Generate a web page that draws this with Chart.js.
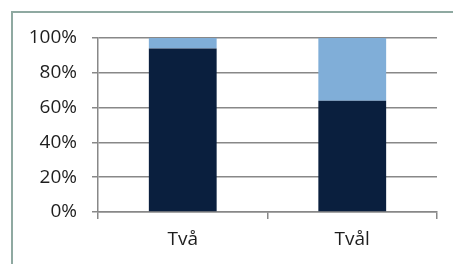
<!DOCTYPE html>
<html>
<head>
<meta charset="utf-8">
<script src="https://cdn.jsdelivr.net/npm/chart.js@4/dist/chart.umd.min.js"></script>
<style>
  html, body { margin: 0; padding: 0; background: #fff; }
  #wrap { position: relative; width: 453px; height: 264px; overflow: hidden; }
  #frame { position: absolute; left: 11px; top: 11px; width: 600px; height: 400px;
           border-left: 2px solid #8fa9a1; border-top: 2px solid #8fa9a1; }
  canvas { position: absolute; left: 0; top: 0; }
</style>
</head>
<body>
<div id="wrap">
  <div id="frame"></div>
  <canvas id="c" width="453" height="264"></canvas>
</div>
<script>
const categories = ["Två", "Tvål"];
const seriesDark = [94, 64];
const seriesLight = [6, 36];
const yTicks = [0, 20, 40, 60, 80, 100];

const FONT = { family: "'Open Sans', sans-serif", size: 19 };
const GRID = "#888888";

new Chart(document.getElementById("c"), {
  type: "bar",
  data: {
    labels: categories,
    datasets: [
      { data: seriesDark, backgroundColor: "#0a1f3e", barPercentage: 0.4, categoryPercentage: 1 },
      { data: seriesLight, backgroundColor: "#80aed8", barPercentage: 0.4, categoryPercentage: 1 }
    ]
  },
  options: {
    responsive: false,
    animation: false,
    devicePixelRatio: 1,
    layout: { padding: { top: 38, right: 16, bottom: 0, left: 0 } },
    plugins: { legend: { display: false }, tooltip: { enabled: false } },
    scales: {
      x: {
        stacked: true,
        afterFit: s => { s.height = 52; },
        grid: { drawOnChartArea: false, color: GRID, lineWidth: 1.5, tickLength: 7, offset: true },
        border: { color: GRID, width: 1.5 },
        ticks: { color: "#1e1e1e", font: FONT, padding: 9 }
      },
      y: {
        stacked: true,
        min: 0, max: 100,
        afterFit: s => { s.width = 98; },
        afterBuildTicks: s => { s.ticks = yTicks.map(v => ({ value: v })); },
        grid: { color: GRID, lineWidth: 1.5, tickLength: 6 },
        border: { color: GRID, width: 1.5 },
        ticks: { color: "#1e1e1e", font: FONT, padding: 15, callback: v => v + "%" }
      }
    }
  }
});
</script>
</body>
</html>
